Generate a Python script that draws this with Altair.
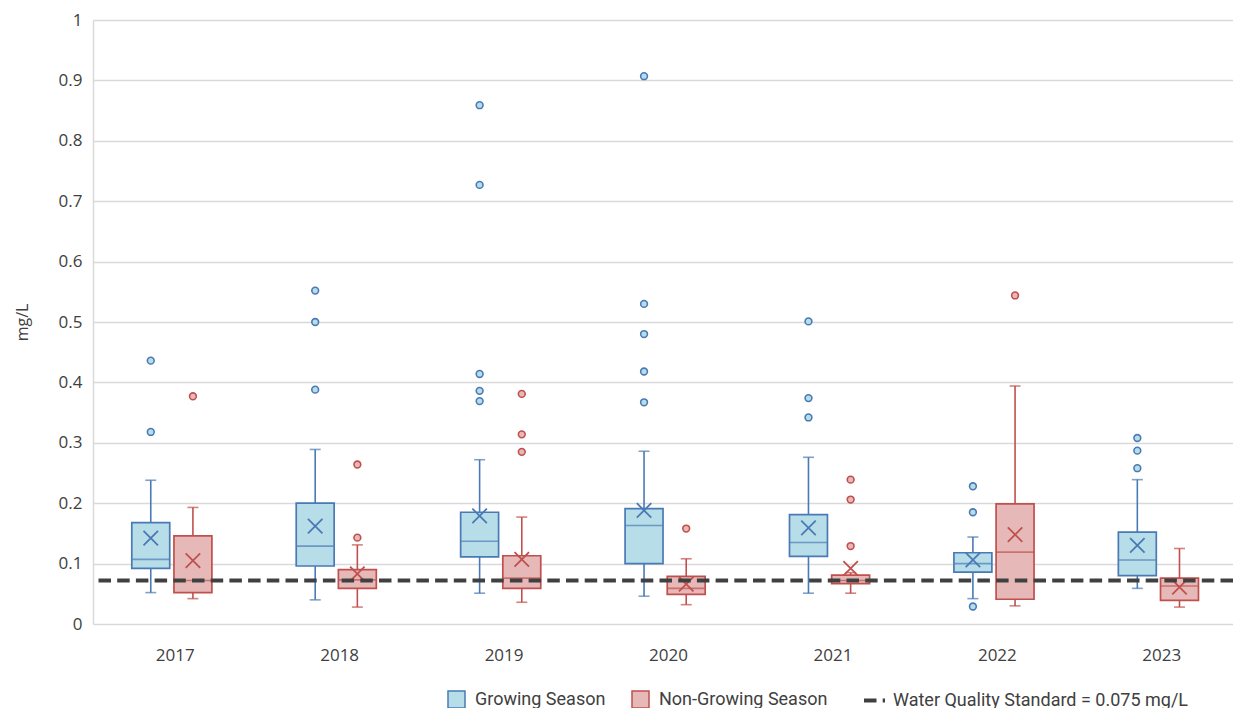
import altair as alt
import pandas as pd

years = ["2017", "2018", "2019", "2020", "2021", "2022", "2023"]
seasons = ["Growing Season", "Non-Growing Season"]

grow_whisker_low = [0.052, 0.040, 0.051, 0.046, 0.051, 0.042, 0.059]
grow_q1 = [0.092, 0.096, 0.111, 0.100, 0.112, 0.086, 0.080]
grow_median = [0.107, 0.129, 0.137, 0.163, 0.135, 0.100, 0.106]
grow_q3 = [0.168, 0.200, 0.185, 0.191, 0.181, 0.118, 0.152]
grow_whisker_high = [0.238, 0.289, 0.272, 0.286, 0.276, 0.144, 0.239]
grow_mean = [0.142, 0.162, 0.179, 0.188, 0.159, 0.106, 0.130]
grow_outliers = [
    [0.436, 0.318],
    [0.552, 0.500, 0.388],
    [0.859, 0.727, 0.414, 0.386, 0.369],
    [0.907, 0.530, 0.480, 0.418, 0.367],
    [0.501, 0.374, 0.342],
    [0.228, 0.185, 0.029],
    [0.308, 0.287, 0.258],
]

non_whisker_low = [0.042, 0.028, 0.036, 0.032, 0.051, 0.030, 0.028]
non_q1 = [0.052, 0.059, 0.059, 0.049, 0.067, 0.041, 0.039]
non_median = [0.072, 0.073, 0.076, 0.059, 0.072, 0.119, 0.063]
non_q3 = [0.146, 0.090, 0.113, 0.079, 0.081, 0.199, 0.076]
non_whisker_high = [0.193, 0.131, 0.177, 0.108, 0.085, 0.394, 0.125]
non_mean = [0.105, 0.083, 0.107, 0.066, 0.092, 0.148, 0.061]
non_outliers = [
    [0.377],
    [0.264, 0.143],
    [0.381, 0.314, 0.285],
    [0.158],
    [0.239, 0.206, 0.129],
    [0.544],
    [],
]

standard_label = "Water Quality Standard = 0.075 mg/L"
standard_line = [0.072]

y_ticks = [0, 0.1, 0.2, 0.3, 0.4, 0.5, 0.6, 0.7, 0.8, 0.9, 1]

# ---- tables built from the arrays ----
stats = {
    seasons[0]: (grow_whisker_low, grow_q1, grow_median, grow_q3, grow_whisker_high, grow_mean, grow_outliers),
    seasons[1]: (non_whisker_low, non_q1, non_median, non_q3, non_whisker_high, non_mean, non_outliers),
}
box_rows, out_rows, cap_rows = [], [], []
for s, (lo, q1, md, q3, hi, mn, outs) in stats.items():
    for i, yr in enumerate(years):
        box_rows.append(dict(year=yr, season=s, grp=s, low=lo[i], q1=q1[i], median=md[i],
                             q3=q3[i], high=hi[i], mean=mn[i]))
        cap_rows.append(dict(year=yr, season=s, grp=s, value=lo[i]))
        cap_rows.append(dict(year=yr, season=s, grp=s, value=hi[i]))
        for v in outs[i]:
            out_rows.append(dict(year=yr, season=s, grp=s, value=v))
box_df = pd.DataFrame(box_rows)
out_df = pd.DataFrame(out_rows)
cap_df = pd.DataFrame(cap_rows)
std_df = pd.DataFrame({"value": standard_line, "label": [standard_label]})

FILL = ["#b7dde8", "#e6b9b8"]
STROKE = ["#4a7ab5", "#c0504d"]
TXT = "#404040"
NARROW = "Roboto"
MAIN = "Open Sans"

L1 = alt.Legend(title=None, orient="none", legendX=354, legendY=670, direction="horizontal",
                symbolType="square", symbolSize=289, symbolStrokeWidth=1.5,
                labelFont=NARROW, labelFontSize=18, labelColor=TXT, columnPadding=23,
                labelOffset=9, padding=0, labelLimit=400)
L2 = alt.Legend(title=None, orient="none", legendX=769, legendY=668, direction="horizontal",
                symbolType="stroke", symbolSize=441, symbolStrokeWidth=4, symbolDash=[8, 3],
                symbolStrokeColor="#404040", labelFont=NARROW, labelFontSize=18,
                labelColor=TXT, labelOffset=6, padding=0, labelLimit=500)

x_enc = alt.X("year:N",
              scale=alt.Scale(domain=years, range=[0, 1151], paddingInner=0, paddingOuter=0),
              axis=alt.Axis(title=None, domain=False, ticks=False, labelPadding=23,
                            labelFontSize=17, labelColor=TXT, labelFont=MAIN, labelAngle=0,
                            grid=False))
xo = alt.XOffset("season:N",
                 scale=alt.Scale(domain=seasons, paddingInner=0.1, paddingOuter=1.0, align=0.46))
y_scale = alt.Scale(domain=[0, 1], nice=False)
y_axis = alt.Axis(title="mg/L", values=y_ticks, format="~g")

fill_enc = alt.Fill("season:N", scale=alt.Scale(domain=seasons, range=FILL), legend=L1)
stroke_enc = alt.Stroke("season:N", scale=alt.Scale(domain=seasons, range=STROKE), legend=L1)
# separate field for line-coloured parts so their (hidden) legend is not merged with the visible one
line_col = alt.Color("grp:N", scale=alt.Scale(range=STROKE), legend=None)

base = alt.Chart(box_df)

whiskers = base.mark_rule(strokeWidth=1.6).encode(
    x=x_enc, xOffset=xo,
    y=alt.Y("low:Q", scale=y_scale, axis=y_axis), y2="high:Q",
    color=line_col)

caps = alt.Chart(cap_df).mark_tick(orient="horizontal", thickness=1.6, size=11).encode(
    x=x_enc, xOffset=xo, y=alt.Y("value:Q", scale=y_scale, axis=y_axis), color=line_col)

boxes = base.mark_bar(strokeWidth=1.7).encode(
    x=x_enc, xOffset=xo,
    y=alt.Y("q1:Q", scale=y_scale, axis=y_axis), y2="q3:Q",
    fill=fill_enc, stroke=stroke_enc)

medians = base.mark_tick(orient="horizontal", thickness=1.6, size=37).encode(
    x=x_enc, xOffset=xo, y=alt.Y("median:Q", scale=y_scale, axis=y_axis), color=line_col)

means = base.mark_point(shape="M-1,-1L1,1M1,-1L-1,1", filled=False, size=210,
                        strokeWidth=1.8, opacity=1).encode(
    x=x_enc, xOffset=xo, y=alt.Y("mean:Q", scale=y_scale, axis=y_axis), color=line_col)

outliers = alt.Chart(out_df).mark_point(shape="circle", filled=True, size=46,
                                        strokeWidth=1.6, opacity=1).encode(
    x=x_enc, xOffset=xo, y=alt.Y("value:Q", scale=y_scale, axis=y_axis),
    fill=fill_enc, stroke=stroke_enc)

standard = alt.Chart(std_df).mark_rule(color="#404040", strokeWidth=4).encode(
    y=alt.Y("value:Q", scale=y_scale, axis=y_axis),
    strokeDash=alt.StrokeDash("label:N",
                              scale=alt.Scale(domain=[standard_label], range=[[12.5, 6.2]]),
                              legend=L2))

chart = alt.layer(whiskers, caps, boxes, medians, means, outliers, standard).properties(
    width=1140, height=604,
    autosize=alt.AutoSizeParams(type="none"),
    padding={"left": 85, "top": 12, "right": 0, "bottom": 84},
).configure(background="white").configure_view(stroke=None).configure_axisY(
    domain=True, domainColor="#d9d9d9", domainWidth=1.5, ticks=False, labelPadding=11,
    labelFontSize=17, labelFont=MAIN, labelColor=TXT, grid=True, gridColor="#d9d9d9",
    gridWidth=1.5, titleFont=MAIN, titleFontSize=16, titleFontWeight="normal",
    titleColor=TXT, titlePadding=28,
)

chart.save("out.html", embed_options={"renderer": "svg", "actions": False})
